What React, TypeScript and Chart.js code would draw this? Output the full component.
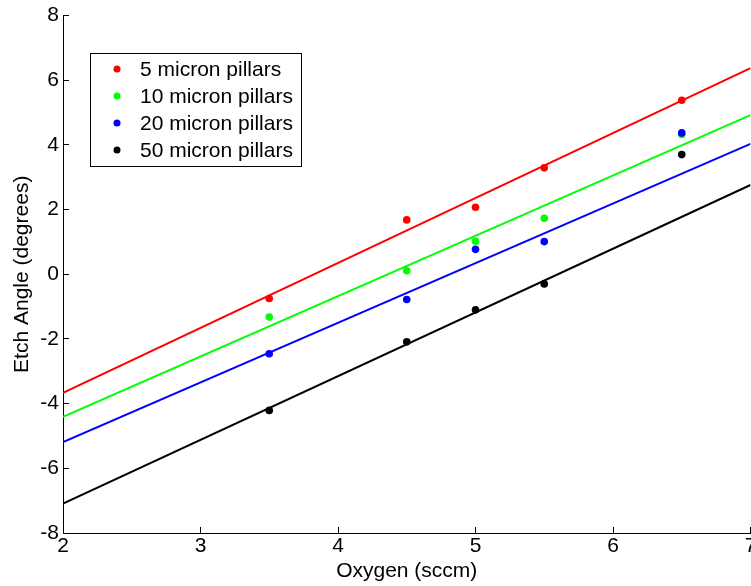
import React, { useEffect, useRef } from "react";
import { Chart, registerables } from "chart.js";

Chart.register(...registerables);

// ---- data ----
const xPoints = [3.5, 4.5, 5, 5.5, 6.5];
const pillars5 = [-0.75, 1.68, 2.07, 3.29, 5.38];
const pillars10 = [-1.32, 0.11, 1.02, 1.73, 4.32];
const pillars20 = [-2.46, -0.78, 0.77, 1.01, 4.37];
const pillars50 = [-4.21, -2.09, -1.1, -0.3, 3.7];

const fitX = [2, 7];
const fit5 = [-3.67, 6.37];
const fit10 = [-4.41, 4.92];
const fit20 = [-5.19, 4.03];
const fit50 = [-7.09, 2.76];

const seriesLabels = ["5 micron pillars", "10 micron pillars", "20 micron pillars", "50 micron pillars"];
const seriesColors = ["#ff0000", "#00ff00", "#0000ff", "#000000"];

const xTicks = [2, 3, 4, 5, 6, 7];
const yTicks = [-8, -6, -4, -2, 0, 2, 4, 6, 8];

const xTitle = "Oxygen (sccm)";
const yTitle = "Etch Angle (degrees)";

const FONT = "'Liberation Sans', Arial, Helvetica, sans-serif";
const FONT_SIZE = 21;

const pointSeries = [pillars5, pillars10, pillars20, pillars50];
const fitSeries = [fit5, fit10, fit20, fit50];

const CANVAS_W = 762;
const CANVAS_H = 586;

const inwardTicks = {
  id: "inwardTicks",
  afterDraw(chart: any) {
    const { ctx, chartArea } = chart;
    const xs = chart.scales.x;
    const ys = chart.scales.y;
    const len = 6;
    ctx.save();
    ctx.strokeStyle = "#000";
    ctx.lineWidth = 1;
    ctx.beginPath();
    xs.ticks.forEach((t: any) => {
      const px = Math.round(xs.getPixelForValue(t.value) - 0.5) + 0.5;
      ctx.moveTo(px, chartArea.bottom);
      ctx.lineTo(px, chartArea.bottom - len);
    });
    ys.ticks.forEach((t: any) => {
      const py = Math.round(ys.getPixelForValue(t.value) - 0.5) + 0.5;
      ctx.moveTo(chartArea.left, py);
      ctx.lineTo(chartArea.left + len, py);
    });
    ctx.stroke();
    ctx.restore();
  },
};

const insideLegend = {
  id: "insideLegend",
  afterDraw(chart: any) {
    const { ctx, chartArea } = chart;
    const items = chart.data.datasets.filter((d: any) => d.showLine === false);
    const boxLeft = chartArea.left + 27;
    const boxTop = chartArea.top + 37.5;
    const boxW = 211;
    const rowH = 27;
    const boxH = 16 + rowH * (items.length - 1) + 16;
    ctx.save();
    ctx.fillStyle = "#fff";
    ctx.fillRect(boxLeft, boxTop, boxW, boxH);
    ctx.strokeStyle = "#000";
    ctx.lineWidth = 1;
    ctx.strokeRect(Math.round(boxLeft) + 0.5, Math.round(boxTop) + 0.5, boxW, boxH);
    ctx.font = `${FONT_SIZE}px ${FONT}`;
    ctx.textBaseline = "middle";
    ctx.textAlign = "left";
    items.forEach((d: any, i: number) => {
      const cy = boxTop + 16 + i * rowH;
      ctx.fillStyle = d.backgroundColor;
      ctx.beginPath();
      ctx.arc(boxLeft + 27, cy, 3.5, 0, Math.PI * 2);
      ctx.fill();
      ctx.fillStyle = "#000";
      ctx.fillText(d.label, boxLeft + 50, cy + 1);
    });
    ctx.restore();
  },
};

export default function App() {
  const ref = useRef<HTMLCanvasElement | null>(null);

  useEffect(() => {
    if (!ref.current) return;
    const datasets: any[] = [];
    pointSeries.forEach((vals, i) => {
      datasets.push({
        type: "line",
        label: seriesLabels[i],
        data: xPoints.map((x, j) => ({ x, y: vals[j] })),
        showLine: false,
        backgroundColor: seriesColors[i],
        borderColor: seriesColors[i],
        pointRadius: 3.8,
        pointBorderWidth: 0,
        pointStyle: "circle",
        order: 4 - i,
      });
    });
    fitSeries.forEach((vals, i) => {
      datasets.push({
        type: "line",
        label: seriesLabels[i] + " fit",
        data: fitX.map((x, j) => ({ x, y: vals[j] })),
        showLine: true,
        borderColor: seriesColors[i],
        backgroundColor: seriesColors[i],
        borderWidth: 2,
        pointRadius: 0,
        fill: false,
        order: 10,
      });
    });

    const chart = new Chart(ref.current, {
      type: "line",
      data: { datasets },
      options: {
        animation: false,
        responsive: false,
        maintainAspectRatio: false,
        devicePixelRatio: 1,
        layout: { padding: { top: 15.5, right: CANVAS_W - 750.5, bottom: 0, left: 0 } },
        plugins: {
          legend: { display: false },
          tooltip: { enabled: false },
          title: { display: false },
        },
        scales: {
          x: {
            type: "linear",
            min: 2,
            max: 7,
            afterBuildTicks: (scale: any) => {
              scale.ticks = xTicks.map((v) => ({ value: v }));
            },
            afterFit: (scale: any) => {
              scale.height = 53;
              scale.paddingLeft = 0;
              scale.paddingRight = 0;
            },
            grid: { display: false, drawTicks: false },
            border: { display: true, color: "#000", width: 1 },
            ticks: {
              color: "#000",
              padding: 1,
              maxRotation: 0,
              autoSkip: false,
              font: { family: FONT, size: FONT_SIZE },
            },
            title: {
              display: true,
              text: xTitle,
              color: "#000",
              font: { family: FONT, size: FONT_SIZE },
              padding: { top: 0, bottom: 2 },
            },
          },
          y: {
            type: "linear",
            min: -8,
            max: 8,
            afterBuildTicks: (scale: any) => {
              scale.ticks = yTicks.map((v) => ({ value: v }));
            },
            afterFit: (scale: any) => {
              scale.width = 63;
              scale.paddingTop = 0;
              scale.paddingBottom = 0;
            },
            grid: { display: false, drawTicks: false },
            border: { display: true, color: "#000", width: 1 },
            ticks: {
              color: "#000",
              padding: 4,
              autoSkip: false,
              font: { family: FONT, size: FONT_SIZE },
            },
            title: {
              display: true,
              text: yTitle,
              color: "#000",
              font: { family: FONT, size: FONT_SIZE },
              padding: { top: 9.4, bottom: 0 },
            },
          },
        },
      } as any,
      plugins: [inwardTicks, insideLegend],
    });
    return () => chart.destroy();
  }, []);

  return (
    <div style={{ position: "fixed", left: 0, top: 0, width: 751, height: 586, overflow: "hidden", background: "#fff" }}>
      <canvas ref={ref} width={CANVAS_W} height={CANVAS_H} style={{ display: "block", width: CANVAS_W, height: CANVAS_H }} />
    </div>
  );
}
